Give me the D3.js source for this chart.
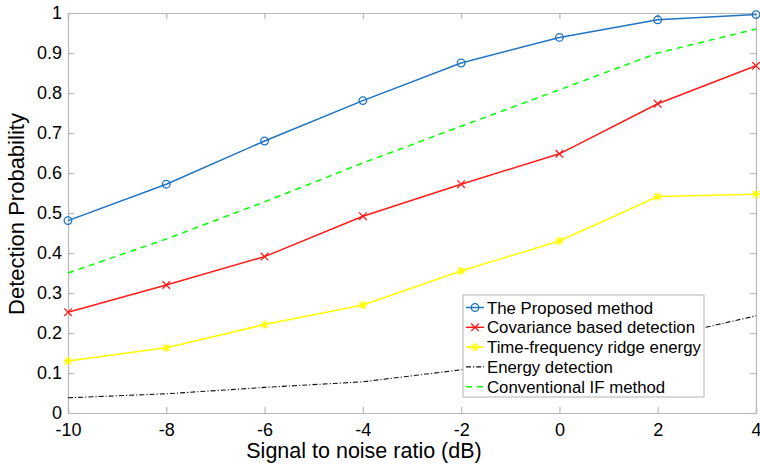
<!DOCTYPE html>
<html><head><meta charset="utf-8">
<script src="https://cdn.jsdelivr.net/npm/d3@7"></script>
<style>body{margin:0;background:#fff}svg{display:block}text{font-family:"Liberation Sans",Arial,Helvetica,sans-serif;fill:#000}</style>
</head><body><svg id="c" width="760" height="475"></svg>
<script>
const snr = [-10, -8, -6, -4, -2, 0, 2, 4];
const proposed = [0.481, 0.572, 0.680, 0.781, 0.875, 0.939, 0.983, 0.996];
const covariance = [0.252, 0.320, 0.391, 0.492, 0.572, 0.648, 0.773, 0.868];
const ridge = [0.130, 0.163, 0.221, 0.270, 0.355, 0.430, 0.541, 0.547];
const energy = [0.038, 0.048, 0.064, 0.078, 0.108, 0.145, 0.187, 0.243];
const conventional = [0.350, 0.435, 0.528, 0.625, 0.717, 0.808, 0.900, 0.960];
const xTicks = [-10, -8, -6, -4, -2, 0, 2, 4];
const yTicks = [0, 0.1, 0.2, 0.3, 0.4, 0.5, 0.6, 0.7, 0.8, 0.9, 1];
const seriesNames = ["The Proposed method", "Covariance based detection", "Time-frequency ridge energy", "Energy detection", "Conventional IF method"];

const series = [
  {name: seriesNames[0], values: proposed, color: "#1f74c4", dash: null, marker: "o"},
  {name: seriesNames[1], values: covariance, color: "#ff1a1a", dash: null, marker: "x"},
  {name: seriesNames[2], values: ridge, color: "#ffff00", dash: null, marker: "*"},
  {name: seriesNames[3], values: energy, color: "#111111", dash: "5,2,1.2,2", marker: null, width: 1.1},
  {name: seriesNames[4], values: conventional, color: "#00ff00", dash: "6,5", marker: null}
];
const drawOrder = [0, 4, 1, 2, 3];

const L = 68, R = 756, T = 13, B = 413;
const svg = d3.select("#c");
const x = d3.scaleLinear().domain([-10, 4]).range([L, R]);
const y = d3.scaleLinear().domain([0, 1]).range([B, T]);
const axisColor = "#b8b8b8";

const gx = svg.append("g").attr("transform", `translate(0,${B})`)
  .call(d3.axisBottom(x).tickValues(xTicks).tickSize(-6).tickPadding(10).tickFormat(d => String(d)));
const gxt = svg.append("g").attr("transform", `translate(0,${T})`)
  .call(d3.axisTop(x).tickValues(xTicks).tickSize(-6).tickFormat(""));
const gy = svg.append("g").attr("transform", `translate(${L},0)`)
  .call(d3.axisLeft(y).tickValues(yTicks).tickSize(-6).tickPadding(6).tickFormat(d => d === 0 ? "0" : d === 1 ? "1" : d3.format(".1f")(d)));
const gyr = svg.append("g").attr("transform", `translate(${R},0)`)
  .call(d3.axisRight(y).tickValues(yTicks).tickSize(-6).tickFormat(""));
[gx, gxt, gy, gyr].forEach(g => {
  g.select(".domain").attr("stroke", axisColor).attr("stroke-width", 1.2);
  g.selectAll(".tick line").attr("stroke", axisColor).attr("stroke-width", 1.2);
  g.selectAll("text").attr("font-size", 18).attr("fill", "#000")
    .style("font-family", '"Liberation Sans",Arial,sans-serif');
});
gx.selectAll("text").attr("dy", "0.71em");

const line = d3.line().x((d, i) => x(snr[i])).y(d => y(d));
drawOrder.forEach(k => {
  const s = series[k];
  svg.append("path").datum(s.values).attr("d", line)
    .attr("fill", "none").attr("stroke", s.color).attr("stroke-width", s.width || 1.5)
    .attr("stroke-dasharray", s.dash);
});

function drawMarker(g, type, cx, cy, color) {
  if (type === "o") {
    g.append("circle").attr("cx", cx).attr("cy", cy).attr("r", 3.8)
      .attr("fill", "none").attr("stroke", color).attr("stroke-width", 1.3);
  } else if (type === "x") {
    const r = 3.8;
    g.append("path").attr("d", `M${cx-r},${cy-r}L${cx+r},${cy+r}M${cx-r},${cy+r}L${cx+r},${cy-r}`)
      .attr("stroke", color).attr("stroke-width", 1.3);
  } else if (type === "*") {
    const r = 4.2, d = 3.2;
    g.append("path").attr("d", `M${cx-r},${cy}L${cx+r},${cy}M${cx},${cy-r}L${cx},${cy+r}M${cx-d},${cy-d}L${cx+d},${cy+d}M${cx-d},${cy+d}L${cx+d},${cy-d}`)
      .attr("stroke", color).attr("stroke-width", 1.3);
  }
}
drawOrder.forEach(k => {
  const s = series[k];
  if (!s.marker) return;
  const g = svg.append("g");
  s.values.forEach((v, i) => drawMarker(g, s.marker, x(snr[i]), y(v), s.color));
});

const lg = svg.append("g");
const lx = 463, ly = 295, lw = 241, lh = 102;
lg.append("rect").attr("x", lx).attr("y", ly).attr("width", lw).attr("height", lh)
  .attr("fill", "#fff").attr("stroke", "#b3b3b3").attr("stroke-width", 1);
series.forEach((s, i) => {
  const cy = ly + 12.5 + i * 19.8;
  lg.append("line").attr("x1", lx + 3).attr("x2", lx + 21).attr("y1", cy).attr("y2", cy)
    .attr("stroke", s.color).attr("stroke-width", s.width || 1.5).attr("stroke-dasharray", s.dash);
  if (s.marker) drawMarker(lg, s.marker, lx + 12, cy, s.color);
  lg.append("text").attr("x", lx + 24).attr("y", cy).attr("dy", "0.36em")
    .attr("font-size", 16.8).text(s.name);
});

svg.append("text").attr("x", 364).attr("y", 458).attr("text-anchor", "middle")
  .attr("font-size", 21.5).text("Signal to noise ratio (dB)");
svg.append("text").attr("transform", "translate(24,214) rotate(-90)").attr("text-anchor", "middle")
  .attr("font-size", 22).text("Detection Probability");
</script></body></html>
